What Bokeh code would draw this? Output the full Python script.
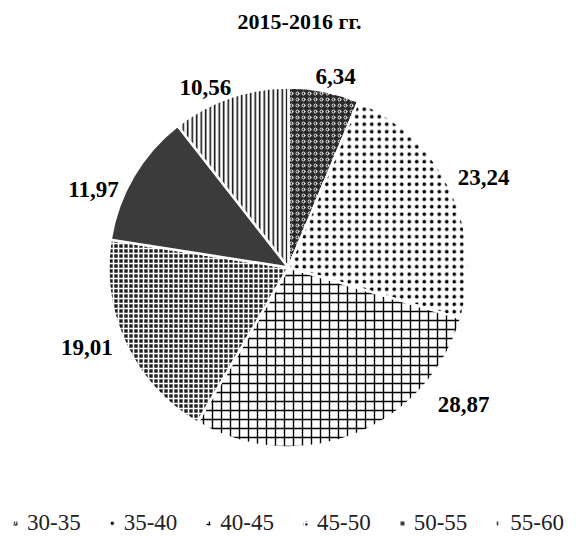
import math
from bokeh.plotting import figure
from bokeh.models import Legend, LegendItem
from bokeh.core.properties import value
from bokeh.embed import file_html
from bokeh.resources import INLINE

# ---- data ----
title_text = "2015-2016 гг."
categories = ["30-35", "35-40", "40-45", "45-50", "50-55", "55-60"]
shares = [6.34, 23.24, 28.87, 19.01, 11.97, 10.56]
labels = ["6,34", "23,24", "28,87", "19,01", "11,97", "10,56"]

# ---- layout / style ----
W, H = 576, 536
cx, cy, R = 288, 269, 180
FONT = "'Liberation Serif', 'Times New Roman', Times, serif"
fills = ["#2a2a2a", "white", "white", "#1e1e1e", "#3b3b3b", "white"]
hatches = ["o", ".", "+", "+", " ", "|"]
hcolors = ["white", "black", "black", "white", "black", "black"]
hscales = [6, 7.5, 9, 5, 12, 4.5]
hweights = [0.9, 3.6, 1.4, 1.6, 1, 1.5]
label_r = [197, 215, 222, 217, 210, 198]
label_shift = [2.4, 0.5, -30.5, 3.7, -8.6, -5.8]  # degrees, clockwise

p = figure(width=W, height=H, x_range=(0, W), y_range=(0, H),
           output_backend="svg", toolbar_location=None, min_border=0,
           x_axis_location=None, y_axis_location=None)
p.grid.visible = False
p.outline_line_color = None

total = sum(shares)
cum = 0.0
items = []
lx, ly = [], []
for i, (cat, v) in enumerate(zip(categories, shares)):
    a0 = math.pi / 2 - 2 * math.pi * cum / total
    a1 = math.pi / 2 - 2 * math.pi * (cum + v) / total
    r = p.wedge(x=[cx], y=[cy], radius=R, start_angle=[a0], end_angle=[a1],
                direction="clock", fill_color=fills[i], line_color="white",
                line_width=2.5, hatch_pattern=hatches[i], hatch_color=hcolors[i],
                hatch_scale=hscales[i], hatch_weight=hweights[i])
    items.append(LegendItem(label=cat, renderers=[r]))
    mid = 2 * math.pi * (cum + v / 2) / total + math.radians(label_shift[i])
    lx.append(cx + label_r[i] * math.sin(mid))
    ly.append(cy + label_r[i] * math.cos(mid))
    cum += v

p.text(x=lx, y=ly, text=labels, text_align="center", text_baseline="middle",
       text_font=value(FONT), text_font_style="bold",
       text_font_size=value("23px"), text_color="black")

p.text(x=[299], y=[H - 21], text=[title_text], text_align="center",
       text_baseline="middle", text_font=value(FONT),
       text_font_style="bold", text_font_size=value("22px"), text_color="black")

legend = Legend(items=items, orientation="horizontal", location=(11, 0),
                glyph_width=8, glyph_height=8, label_standoff=8, spacing=27,
                padding=0, margin=0, border_line_color=None,
                background_fill_alpha=0, label_text_font=FONT,
                label_text_font_size="23px", label_text_color="#222222")
p.add_layout(legend)

open("out.html", "w").write(file_html(p, INLINE))
